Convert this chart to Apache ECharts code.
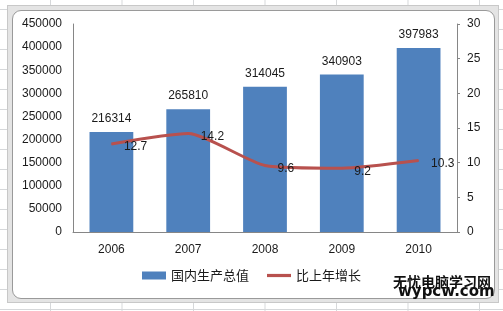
<!DOCTYPE html>
<html>
<head>
<meta charset="utf-8">
<script src="https://cdn.jsdelivr.net/npm/echarts@6/dist/echarts.min.js"></script>
<style>
html,body{margin:0;padding:0;width:503px;height:311px;overflow:hidden;background:#fff;}
#sheet{position:absolute;left:0;top:0;width:503px;height:311px;
background-image:linear-gradient(to right,#d6d8da 1px,transparent 1px),linear-gradient(to bottom,#d6d8da 1px,transparent 1px);
background-size:71.5px 20px;background-position:50px 9px;}
#outer{position:absolute;left:7px;top:5px;width:492px;height:298px;background:#e4e4e4;border:1px solid #c8c8c8;box-sizing:border-box;}
#inner{position:absolute;left:12px;top:10px;width:483px;height:289px;background:#fff;border:1px solid #9a9a9a;border-radius:9px;box-sizing:border-box;}
#c{position:absolute;left:0;top:0;width:503px;height:311px;}
</style>
</head>
<body>
<div id="sheet"></div>
<div id="outer"></div>
<div id="inner"></div>
<div id="c"></div>
<script>
var years = ['2006','2007','2008','2009','2010'];
var gdp = [216314, 265810, 314045, 340903, 397983];
var growth = [12.7, 14.2, 9.6, 9.2, 10.3];
var leftTicks = [0, 450000, 50000];
var rightTicks = [0, 30, 5];

var chart = echarts.init(document.getElementById('c'), null, {renderer:'canvas'});
var txt = '#1a1a1a';
var font = '"Liberation Sans", Arial, sans-serif';
var lineColor = '#B8514E';
chart.setOption({
  backgroundColor: 'transparent',
  animation: false,
  textStyle: {fontFamily: font},
  grid: {left: 73, right: 46, top: 24, bottom: 79},
  legend: {
    bottom: 24, left: 'center',
    itemWidth: 24, itemHeight: 8, itemGap: 18,
    textStyle: {fontFamily: '"Noto Sans CJK SC", sans-serif', fontSize: 13, color: txt},
    data: [{name:'国内生产总值', icon:'rect'},
           {name:'比上年增长', icon:'path://M0,0h24v3.2h-24z', itemStyle:{color: lineColor}}]
  },
  xAxis: {
    type: 'category', data: years,
    axisLine: {lineStyle: {color: '#868686', width: 1}},
    axisTick: {show: false},
    axisLabel: {color: txt, fontSize: 12, margin: 12, fontFamily: font}
  },
  yAxis: [{
    type: 'value', min: leftTicks[0], max: leftTicks[1], interval: leftTicks[2],
    axisLine: {show: true, lineStyle: {color: '#868686'}},
    axisTick: {show: false},
    splitLine: {show: false},
    axisLabel: {color: txt, fontSize: 12, margin: 11, fontFamily: font,
      formatter: function(v){return String(v);}}
  }, {
    type: 'value', min: rightTicks[0], max: rightTicks[1], interval: rightTicks[2],
    position: 'right',
    axisLine: {show: true, lineStyle: {color: '#868686'}},
    axisTick: {show: true, length: 3, lineStyle: {color: '#868686'}},
    splitLine: {show: false},
    axisLabel: {color: txt, fontSize: 12, margin: 10, fontFamily: font}
  }],
  series: [{
    name: '国内生产总值', type: 'bar', data: gdp, barWidth: '57%',
    itemStyle: {color: '#4F81BD'},
    label: {show: true, position: 'top', distance: 7, color: txt, fontSize: 12, fontFamily: font}
  }, {
    name: '比上年增长', type: 'line', yAxisIndex: 1, data: growth,
    smooth: 0.2, symbol: 'circle', symbolSize: 1, showSymbol: true,
    lineStyle: {color: lineColor, width: 3},
    itemStyle: {color: lineColor},
    label: {show: true, position: 'right', distance: 12, offset: [0, 3], color: txt, fontSize: 12, fontFamily: font},
    z: 5
  }],
  graphic: [{
    type: 'text', left: 393, top: 275,
    style: {text: '无忧电脑学习网', fill: '#111', font: 'bold 14px "Noto Sans CJK SC", sans-serif'}
  }, {
    type: 'text', left: 398, top: 285,
    style: {text: 'wypcw.com', fill: '#111', font: 'bold 15px "DejaVu Sans", sans-serif'}
  }]
});
</script>
</body>
</html>
